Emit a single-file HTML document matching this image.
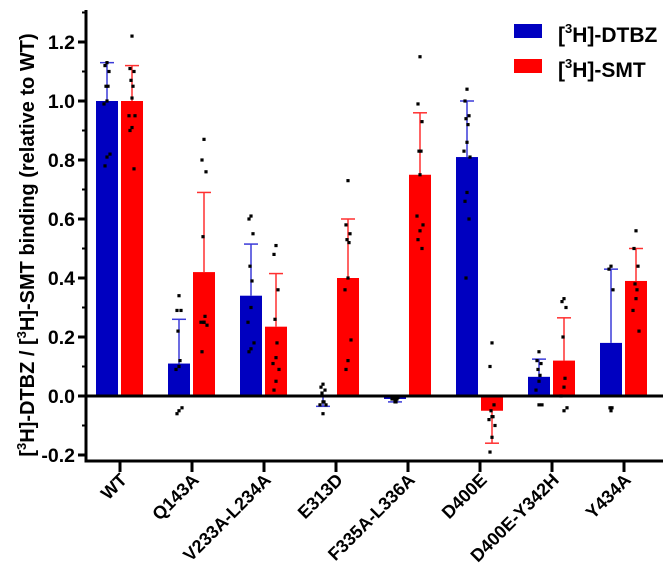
<!DOCTYPE html>
<html><head><meta charset="utf-8"><style>
html,body{margin:0;padding:0;background:#fff;}
svg{display:block;font-family:"Liberation Sans",Arial,sans-serif;font-weight:bold;}
</style></head><body>
<svg id="chart" width="663" height="582" viewBox="0 0 663 582">
<g id="grid"></g>
</svg>
<script>
const categories=["WT","Q143A","V233A-L234A","E313D","F335A-L336A","D400E","D400E-Y342H","Y434A"];
const dtbzMean=[1.0,0.11,0.34,-0.005,-0.01,0.81,0.065,0.18];
const dtbzSD=[0.13,0.15,0.175,0.03,0.01,0.19,0.06,0.25];
const smtMean=[1.0,0.42,0.235,0.40,0.75,-0.05,0.12,0.39];
const smtSD=[0.12,0.27,0.18,0.2,0.21,0.11,0.145,0.11];
const dtbzPts=[[1.13,1.12,1.1,1.05,1.05,1.0,0.99,0.82,0.81,0.78],[0.34,0.29,0.29,0.22,0.12,0.1,0.09,-0.04,-0.05,-0.06],[0.61,0.6,0.55,0.44,0.39,0.3,0.25,0.18,0.16,0.15],[0.04,0.03,0.02,0.01,-0.02,-0.02,-0.03,-0.03,-0.06],[-0.005,-0.005,-0.01,-0.01,-0.02,-0.02,-0.01,-0.005],[1.04,1.0,0.95,0.94,0.92,0.86,0.83,0.81,0.69,0.66,0.6,0.4],[0.15,0.12,0.11,0.09,0.07,0.05,0.02,-0.03,-0.03],[0.44,0.43,0.36,-0.04,-0.04,-0.05]];
const smtPts=[[1.22,1.11,1.1,1.07,1.05,1.01,0.95,0.95,0.91,0.9,0.77],[0.87,0.8,0.76,0.54,0.27,0.25,0.25,0.24,0.25,0.15],[0.51,0.48,0.36,0.26,0.18,0.13,0.11,0.09,0.05,0.02],[0.73,0.58,0.55,0.53,0.52,0.4,0.36,0.19,0.12,0.09],[1.15,0.99,0.93,0.83,0.83,0.75,0.61,0.58,0.56,0.53,0.5],[0.18,0.1,-0.03,-0.05,-0.07,-0.07,-0.08,-0.1,-0.14,-0.19],[0.33,0.32,0.3,0.2,0.06,0.03,0.0,-0.04,-0.05],[0.56,0.5,0.44,0.38,0.36,0.33,0.29,0.22]];
const yTicks=[-0.2,0.0,0.2,0.4,0.6,0.8,1.0,1.2];
const yTickLabels=["-0.2","0.0","0.2","0.4","0.6","0.8","1.0","1.2"];

const NS="http://www.w3.org/2000/svg";
const svg=document.getElementById('chart');
const y0=396, pxPerUnit=295;
function y(v){return y0-v*pxPerUnit;}
function xc(i){return 120+i*72;}
function mk(tag,attrs,parent){const e=document.createElementNS(NS,tag);for(const k in attrs)e.setAttribute(k,attrs[k]);(parent||svg).appendChild(e);return e;}

function series(means,sds,pts,color,errColor,offset,nm){
  means.forEach((m,i)=>{
    const cx=xc(i)+offset;
    const top=Math.min(y(m),y0), h=Math.abs(y(m)-y0);
    const r=mk('rect',{x:cx-11,y:top,width:22,height:Math.max(h,0.5),fill:color});
    
    
    const dir=m>=0?1:-1;
    const ye=y(m+dir*sds[i]);
    const l=mk('line',{x1:cx,x2:cx,y1:y(m),y2:ye,stroke:errColor,'stroke-width':1.5});
    
    
    const c=mk('line',{x1:cx-7,x2:cx+7,y1:ye,y2:ye,stroke:errColor,'stroke-width':1.5});
    
    
    pts[i].forEach((p,j)=>{
      const dx=[0,-2,2,-1,1,0,-3,3][j%8];
      const d=mk('rect',{x:cx+dx-1.6,y:y(p)-1.6,width:3.2,height:3.2,fill:'#000'});
      
      
    });
  });
}
series(dtbzMean,dtbzSD,dtbzPts,'#0000c0','#3a3ad8',-13,'dtbz');
series(smtMean,smtSD,smtPts,'#ff0000','#ff3030',12,'smt');

const zl=mk('line',{x1:86,x2:663,y1:y0,y2:y0,stroke:'#000','stroke-width':3});


const ya=mk('line',{x1:86,x2:86,y1:10,y2:462,stroke:'#000','stroke-width':3});


const xa=mk('line',{x1:84.5,x2:663,y1:461,y2:461,stroke:'#000','stroke-width':3});



yTicks.forEach((t,i)=>{
  const tk=mk('line',{x1:78,x2:86,y1:y(t),y2:y(t),stroke:'#000','stroke-width':3});
  
  
  const tx=mk('text',{x:75,y:y(t)+7,'text-anchor':'end','font-size':19.5});
  tx.textContent=yTickLabels[i];
  
  
});
for(let v=-0.1;v<1.3;v+=0.2){
  const mt=mk('line',{x1:82,x2:86,y1:y(v),y2:y(v),stroke:'#000','stroke-width':2});
  
  
}
categories.forEach((c,i)=>{
  const tk=mk('line',{x1:xc(i),x2:xc(i),y1:461,y2:472,stroke:'#000','stroke-width':3});
  
  
  const tx=mk('text',{x:0,y:0,'text-anchor':'end','font-size':18,transform:`translate(${xc(i)+8},${481}) rotate(-45)`});
  tx.textContent=c;
  
  
});
</script>
<svg style="position:absolute;left:0;top:0" width="663" height="582">
<text x="0" y="0" transform="translate(34,245) rotate(-90)" text-anchor="middle" font-size="20" font-weight="bold" font-family="Liberation Sans, Arial, sans-serif">[<tspan font-size="13" dy="-8">3</tspan><tspan dy="8">H]-DTBZ / [</tspan><tspan font-size="13" dy="-8">3</tspan><tspan dy="8">H]-SMT binding (relative to WT)</tspan></text>
<g>
<rect x="514" y="24" width="28" height="14" fill="#0000c0"/>
<text x="558" y="42" font-size="21" font-family="Liberation Sans, Arial, sans-serif">[<tspan font-size="13" dy="-9">3</tspan><tspan dy="9">H]-DTBZ</tspan></text>
<rect x="514" y="59" width="28" height="14" fill="#ff0000"/>
<text x="558" y="77" font-size="21" font-family="Liberation Sans, Arial, sans-serif">[<tspan font-size="13" dy="-9">3</tspan><tspan dy="9">H]-SMT</tspan></text>
</g>
</svg>
</body></html>
